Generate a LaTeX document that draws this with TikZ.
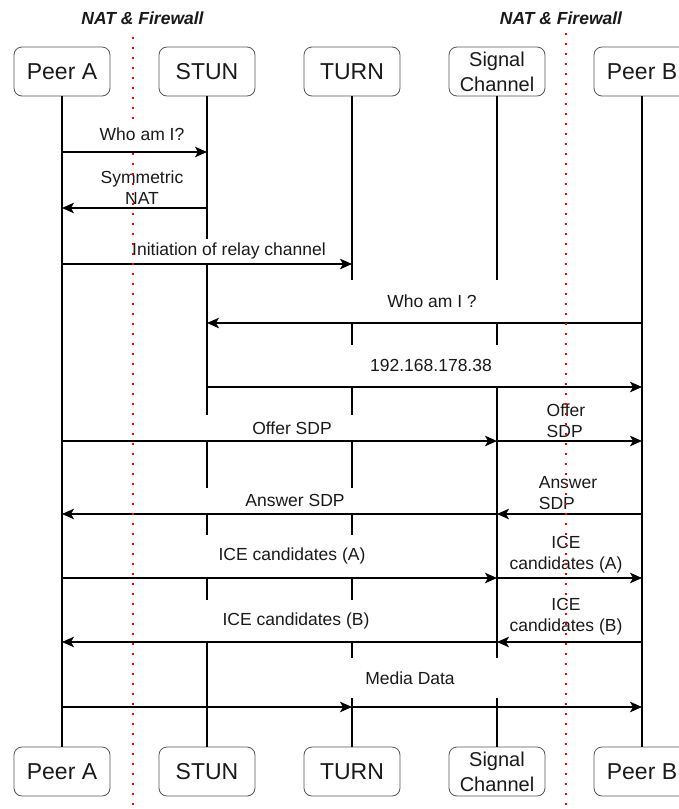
\documentclass[tikz,border=0pt]{standalone}
\usepackage{fontspec}
\setmainfont{Liberation Sans}
\usepackage{tikz}
\usetikzlibrary{arrows.meta, positioning}
\definecolor{colorWall}{HTML}{FF0000}
\definecolor{colorFrame}{HTML}{555555}
\definecolor{colorText}{HTML}{1A1A1A}

\begin{document}
\begin{tikzpicture}[x=1pt, y=-1pt,
        node distance=49pt,
        actor/.style={draw=colorFrame, line width=0.8pt, rounded corners=8pt, outer sep=0pt, inner sep=0pt,
            minimum width=96pt, minimum height=49pt, align=center, text=colorText, font=\fontsize{23}{27}\selectfont},
        sigbox/.style={actor, font=\fontsize{20}{25}\selectfont},
        life/.style={line width=1.6pt},
        msg/.style={-{Stealth[length=12pt, width=10.5pt, inset=3pt]}, line width=1.6pt},
        lbl/.style={fill=white, inner sep=0pt, align=center, text=colorText, font=\fontsize{17.5}{21}\selectfont},
        wall/.style={colorWall, line width=2pt, dash pattern=on 2pt off 8pt},
        hdr/.style={text=colorText, font=\fontsize{17.5}{20}\selectfont\bfseries\itshape}
    ]
        \path[use as bounding box, fill=white] (0,0) rectangle (679,809);

        % participants
        \node[actor] (pa) at (62,71.5) {Peer A};
        \node[actor, right=of pa] (stun) {STUN};
        \node[actor, right=of stun] (turn) {TURN};
        \node[sigbox, right=of turn] (sc) {Signal\\Channel};
        \node[actor, right=of sc] (pb) {Peer B};

        \node[actor, below=651pt of pa] (pa2) {Peer A};
        \node[actor, below=651pt of stun] (stun2) {STUN};
        \node[actor, below=651pt of turn] (turn2) {TURN};
        \node[sigbox, below=651pt of sc] (sc2) {Signal\\Channel};
        \node[actor, below=651pt of pb] (pb2) {Peer B};

        \foreach \n in {pa, stun, turn, sc, pb}
            \draw[life] (\n.south) -- (\n2.north);

        % message labels
        \node[lbl, minimum width=120pt, minimum height=24pt] (m1) at (142,134) {Who am I?};
        \node[lbl, minimum width=120pt] (m2) at (142,188) {Symmetric\\NAT};
        \node[lbl, minimum width=230pt, minimum height=24pt] (m3) at (229,251) {Initiation of relay channel};
        \node[lbl, minimum width=320pt, minimum height=42pt] (m4) at (432,301) {Who am I ?};
        \node[lbl, minimum width=320pt, minimum height=41pt] (m5) at (431,365) {192.168.178.38};
        \node[lbl, minimum width=300pt, minimum height=26pt] (m6) at (292,428) {Offer SDP};
        \node[lbl, minimum width=300pt, minimum height=25pt] (m7) at (295,500) {Answer SDP};
        \node[lbl, minimum width=300pt, minimum height=42pt] (m8) at (292,555.5) {ICE candidates (A)};
        \node[lbl, minimum width=300pt, minimum height=42pt] (m9) at (296,621) {ICE candidates (B)};
        \node[lbl, minimum width=300pt, minimum height=40pt] (m10) at (410,678) {Media Data};
        \node[lbl, align=left] (r6) at (566,421) {Offer\\SDP};
        \node[lbl, align=left] (r7) at (568,493) {Answer\\SDP};
        \node[lbl] (r8) at (566,555) {ICE\\candidates (A)};
        \node[lbl] (r9) at (566,617) {ICE\\candidates (B)};

        % messages
        \draw[msg] (pa |- 0,152) -- (stun |- 0,152);
        \draw[msg] (stun |- 0,208) -- (pa |- 0,208);
        \draw[msg] (pa |- 0,264) -- (turn |- 0,264);
        \draw[msg] (pb |- 0,323) -- (stun |- 0,323);
        \draw[msg] (stun |- 0,387) -- (pb |- 0,387);
        \draw[msg] (pa |- 0,441) -- (sc |- 0,441); \draw[msg] (sc |- 0,441) -- (pb |- 0,441);
        \draw[msg] (sc |- 0,514) -- (pa |- 0,514); \draw[msg] (pb |- 0,514) -- (sc |- 0,514);
        \draw[msg] (pa |- 0,578) -- (sc |- 0,578); \draw[msg] (sc |- 0,578) -- (pb |- 0,578);
        \draw[msg] (sc |- 0,642) -- (pa |- 0,642); \draw[msg] (pb |- 0,642) -- (sc |- 0,642);
        \draw[msg] (pa |- 0,707) -- (turn |- 0,707); \draw[msg] (turn |- 0,707) -- (pb |- 0,707);

        % firewalls
        \draw[wall] (133,37) -- (133,120) (133,153) -- (133,809);
        \draw[wall] (566,33) -- (566,809);
        \node[hdr] (nat1) at (142.5,18) {NAT \& Firewall};
        \node[hdr] (nat2) at (561,18) {NAT \& Firewall};
    \end{tikzpicture}
\end{document}
